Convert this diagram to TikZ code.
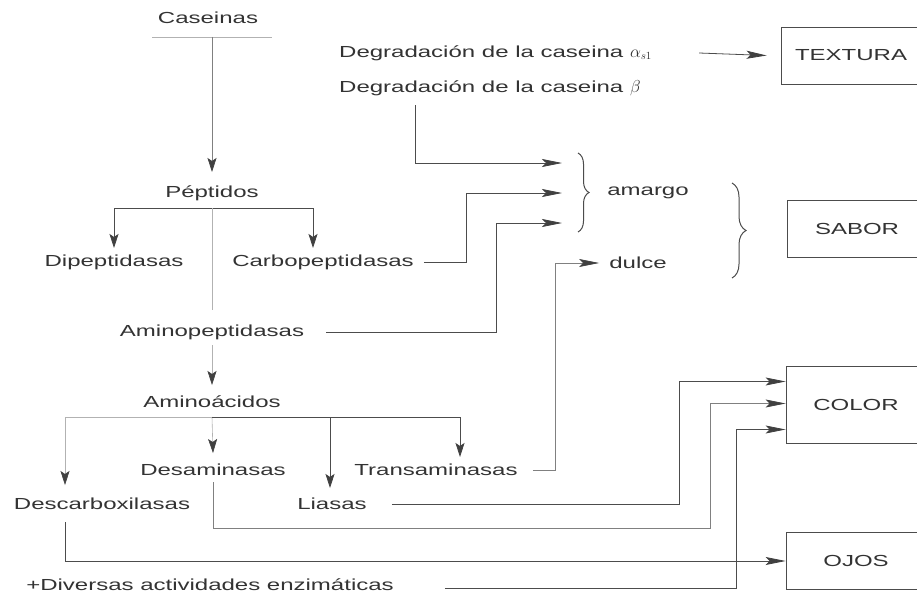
\documentclass[tikz,border=0pt]{standalone}
\usepackage{fontspec}
\setmainfont{Liberation Sans}[FakeStretch=1.5]
\usetikzlibrary{arrows.meta,decorations.pathreplacing}

\tikzset{
    txt/.style={inner sep=2pt,text=black!80},
    box/.style={draw=black!70,line width=0.8pt,minimum width=160pt,minimum height=57pt,text=black!80},
    line/.style={draw=black!70,line width=0.8pt},
    mid/.style={draw=black!50,line width=0.7pt},
    faint/.style={draw=black!30,line width=0.6pt},
    varr/.style={-{Stealth[length=14pt,width=9pt,inset=3pt,color=black!75]}},
    harr/.style={-{Stealth[length=20pt,width=8pt,inset=4pt,color=black!75]}},
    llave/.style={draw=black!70,line width=1pt,decorate,decoration={brace,amplitude=#1}}
}

\begin{document}
\begin{tikzpicture}[x=1pt,y=-1pt,font=\fontsize{16}{19}\selectfont]
        \useasboundingbox (0,0) rectangle (917,594);
        \fill[white] (0,0) rectangle (917,594);

        % cadena principal
        \node[txt] (cas) at (208,18) {Caseinas};
        \draw[faint] (152,37) -- (272,37);
        \coordinate (c0) at (212,37);
        \node[txt] (pep) at (212,193) {Péptidos};
        \node[txt] (dipep) at (114,262) {Dipeptidasas};
        \node[txt] (carbo) at (323,262) {Carbopeptidasas};
        \node[txt] (aminop) at (212,332) {Aminopeptidasas};
        \node[txt] (aminoac) at (212,402) {Aminoácidos};
        \node[txt] (desam) at (213,470) {Desaminasas};
        \node[txt] (trans) at (436,470) {Transaminasas};
        \node[txt] (descarb) at (102,504) {Descarboxilasas};
        \node[txt] (liasas) at (332,504) {Liasas};
        \node[txt] (diversas) at (210,585) {+Diversas actividades enzimáticas};

        \draw[mid,varr] (c0) -- ([yshift=21pt]pep.center);
        \coordinate (pj) at ([yshift=-15pt]pep.center);
        \draw[line,varr] (pj) -| ([yshift=14pt]dipep.center);
        \draw[line,varr] (pj) -| ([xshift=-10pt,yshift=14pt]carbo.center);
        \draw[faint] (pj) -- ([yshift=22pt]aminop.center);
        \draw[faint,varr] ([yshift=-13pt]aminop.center) -- ([yshift=17pt]aminoac.center);
        \coordinate (aj) at ([yshift=-15pt]aminoac.center);
        \draw[faint,varr] (aj) -| ([xshift=-37pt,yshift=19pt]descarb.center);
        \draw[faint,varr] (aj) -- ([yshift=17pt]desam.center);
        \draw[line,varr] (aj) -| ([xshift=-2pt,yshift=16pt]liasas.center);
        \draw[line,varr] (aj) -| ([xshift=24pt,yshift=13pt]trans.center);

        % degradacion y sabor
        \node[txt,anchor=west] (degA) at (337,53) {Degradación de la caseina $\alpha_{s1}$};
        \node[txt,anchor=west] (degB) at (337,88) {Degradación de la caseina $\beta$};
        \node[txt] (amargo) at (648,193) {amargo};
        \node[txt] (dulce) at (638,263) {dulce};

        \node[box] (textura) at (861,55.5) {\hspace*{-20pt}TEXTURA};
        \node[box] (sabor) at (867,228.5) {\hspace*{-20pt}SABOR};
        \node[box,minimum height=77pt] (color) at (866,404.5) {\hspace*{-20pt}COLOR};
        \node[box] (ojos) at (866,561) {\hspace*{-20pt}OJOS};

        \draw[line,harr] ([xshift=45pt]degA.east) -- ([xshift=-14pt]textura.west);
        \draw[line,harr] ([xshift=78pt,yshift=-17pt]degB.west) |- ([xshift=-86pt,yshift=30pt]amargo.center);
        \draw[line,harr] ([xshift=8pt]carbo.east) -- ++(42,0) |- ([xshift=-86pt]amargo.center);
        \draw[line,harr] ([xshift=20pt]aminop.east) -- ++(170,0) |- ([xshift=-86pt,yshift=-30pt]amargo.center);
        \draw[mid,harr] ([xshift=13pt]trans.east) -- ++(23,0) |- ([xshift=-8pt]dulce.west);
        \draw[llave=11pt] (578,153) -- (578,232);
        \draw[llave=14pt] (732,183) -- (732,278);

        % color y ojos
        \draw[line,harr] ([xshift=23pt]liasas.east) -- ++(288,0) |- ([yshift=23pt]color.west);
        \draw[mid,harr] ([yshift=-12pt]desam.center) -- ++(0,46) -- ++(497,0) |- ([yshift=1pt]color.west);
        \draw[line,harr] ([xshift=49pt,yshift=-3pt]diversas.east) -- ++(291,0) |- ([yshift=-25pt]color.west);
        \draw[line,harr] ([xshift=-37pt,yshift=-18pt]descarb.center) |- (ojos.west);
\end{tikzpicture}
\end{document}
